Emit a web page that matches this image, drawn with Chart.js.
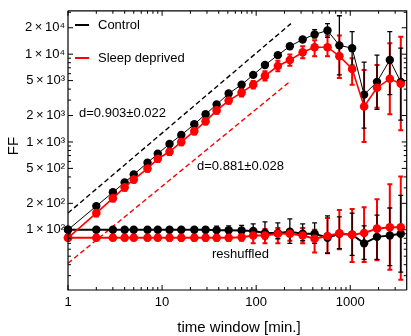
<!DOCTYPE html>
<html><head><meta charset="utf-8">
<script src="https://cdn.jsdelivr.net/npm/chart.js@4.4.1/dist/chart.umd.min.js"></script>
<style>html,body{margin:0;padding:0;background:#fff}canvas{display:block}</style>
</head><body>
<canvas id="c" width="411" height="336"></canvas>
<script>
const timeWindows = [1,2,3,4,5,7,9,12,16,22,29,38,51,70,93,124,170,228,312,418,573,766,1047,1403,1924,2633,3443];

const controlFF   = [100,186,267,346,426,581,733,950,1200,1590,2070,2670,3560,4490,5810,7520,9750,12300,14700,16800,18600,12600,11700,3460,4840,8570,4840];
const controlLow  = [98,182,262,339,417,569,718,930,1175,1555,2020,2610,3480,4380,5650,7250,9350,11700,13900,15300,15500,5800,7500,1440,2350,3460,1770];
const controlHigh = [102,190,272,353,435,593,748,970,1225,1625,2120,2730,3640,4600,5970,7800,10150,12900,15500,19000,22300,27400,18100,8130,9740,18100,11700];

const sleepFF   = [81,155,229,304,374,498,644,773,1000,1330,1720,2290,2965,3650,4490,5660,7330,8570,10500,12000,12000,9500,6780,2540,4150,5240,4600];
const sleepLow  = [77,142,210,279,343,457,591,709,917,1220,1580,2100,2720,3300,4060,5000,6400,7400,9000,9500,9500,5370,4490,1000,2460,2070,1360];
const sleepHigh = [86,169,250,331,408,543,702,843,1090,1450,1880,2500,3230,4030,4960,6400,8400,9900,12300,14400,16300,16300,9000,6610,7520,13300,15800];

const shuffControl     = [100,100,100,100,100,100,100,100,100,100,100,99,99,98,97,92,92,95,90,90,81,90,88,70,83,86,90];
const shuffControlLow  = [98,97,97,97,96,96,96,95,95,94,93,92,91,89,85,79,79,70,75,70,54,61,51,46,46,39,33];
const shuffControlHigh = [102,103,103,103,104,104,104,105,106,107,108,110,111,112,117,123,120,133,117,120,144,140,155,111,147,177,247];

const shuffSleep     = [81,81,81,81,81,81,81,81,81,81,81,81,81,82,86,86,90,90,86,79,85,91,88,92,103,107,107];
const shuffSleepLow  = [76,76,76,76,76,76,76,75,75,75,75,75,75,75,70,70,70,75,70,55,54,60,43,43,45,35,27];
const shuffSleepHigh = [87,87,87,87,87,87,87,88,88,88,88,88,88,90,102,102,105,100,105,100,136,168,172,181,222,329,404];

const fitWindows = [1, 234];
const fitControl = [155, 22300];
const fitSleep   = [41.5, 4980];

const xTickValues = [1, 10, 100, 1000];
const xTickLabels = ["1", "10", "100", "1000"];
const yTickValues = [100, 200, 500, 1000, 2000, 5000, 10000, 20000];
const yTickLabels = ["1\u2009×\u200910²","2\u2009×\u200910²","5\u2009×\u200910²","1\u2009×\u200910³","2\u2009×\u200910³","5\u2009×\u200910³","1\u2009×\u200910⁴","2\u2009×\u200910⁴"];

const FONT = "'Liberation Sans', Arial, Helvetica, sans-serif";
const RED = "#ff0000";
const pts = (xs, ys) => xs.map((x, i) => ({x: x, y: ys[i]}));

const errorSets = [
  {low: sleepLow, high: sleepHigh, color: RED, width: 2},
  {low: shuffSleepLow, high: shuffSleepHigh, color: RED, width: 2},
  {low: controlLow, high: controlHigh, color: "#000", width: 1.3},
  {low: shuffControlLow, high: shuffControlHigh, color: "#000", width: 1.3}
];

const errorBars = {
  id: 'errorBars',
  beforeDatasetsDraw(chart) {
    const {ctx, scales: {x, y}} = chart;
    ctx.save();
    errorSets.forEach(s => {
      ctx.strokeStyle = s.color;
      ctx.lineWidth = s.width;
      timeWindows.forEach((t, i) => {
        const px = x.getPixelForValue(t);
        const yl = y.getPixelForValue(s.low[i]);
        const yh = y.getPixelForValue(s.high[i]);
        ctx.beginPath();
        ctx.moveTo(px, yl); ctx.lineTo(px, yh);
        ctx.moveTo(px - 2.5, yl); ctx.lineTo(px + 2.5, yl);
        ctx.moveTo(px - 2.5, yh); ctx.lineTo(px + 2.5, yh);
        ctx.stroke();
      });
    });
    ctx.restore();
  }
};

const frame = {
  id: 'frame',
  afterDraw(chart) {
    const {ctx, chartArea: a, scales: {x, y}} = chart;
    ctx.save();
    ctx.strokeStyle = "#000";
    ctx.lineWidth = 1.2;
    ctx.beginPath();
    ctx.moveTo(a.left, a.top); ctx.lineTo(a.left, a.bottom);
    ctx.lineTo(a.right, a.bottom);
    ctx.moveTo(a.left, a.top); ctx.lineTo(a.right, a.top); ctx.lineTo(a.right, a.bottom);
    ctx.stroke();
    ctx.lineWidth = 1;
    ctx.beginPath();
    for (let e = 0; e <= 4; e++) {
      for (let d = 1; d <= 9; d++) {
        const v = d * Math.pow(10, e);
        if (v < x.min || v > x.max) continue;
        const px = x.getPixelForValue(v);
        const L = d === 1 ? 5 : 3;
        ctx.moveTo(px, a.bottom); ctx.lineTo(px, a.bottom - L);
        ctx.moveTo(px, a.top); ctx.lineTo(px, a.top + L);
      }
    }
    for (let e = 1; e <= 4; e++) {
      for (let d = 1; d <= 9; d++) {
        const v = d * Math.pow(10, e);
        if (v < y.min || v > y.max) continue;
        const py = y.getPixelForValue(v);
        const L = yTickValues.includes(v) ? 5 : 3;
        ctx.moveTo(a.left, py); ctx.lineTo(a.left + L, py);
        ctx.moveTo(a.right, py); ctx.lineTo(a.right - L, py);
      }
    }
    ctx.stroke();

    // legend
    ctx.lineWidth = 2;
    ctx.strokeStyle = "#000";
    ctx.beginPath(); ctx.moveTo(75, 25); ctx.lineTo(89, 25); ctx.stroke();
    ctx.strokeStyle = RED;
    ctx.beginPath(); ctx.moveTo(75, 58); ctx.lineTo(89, 58); ctx.stroke();
    ctx.fillStyle = "#000";
    ctx.font = "13px " + FONT;
    ctx.textBaseline = "middle";
    ctx.textAlign = "left";
    ctx.fillText("Control", 98, 25);
    ctx.fillText("Sleep deprived", 98, 58);
    ctx.fillText("d=0.903±0.022", 79, 113);
    ctx.fillText("d=0.881±0.028", 197, 166);
    ctx.fillText("reshuffled", 212, 254);
    ctx.font = "15px " + FONT;
    ctx.textAlign = "center";
    ctx.fillText("time window [min.]", 239, 328);
    ctx.translate(14, 146);
    ctx.rotate(-Math.PI / 2);
    ctx.fillText("FF", 0, 0);
    ctx.restore();
  }
};

new Chart(document.getElementById('c'), {
  type: 'line',
  data: {
    datasets: [
      {label: 'Sleep deprived', data: pts(timeWindows, sleepFF), borderColor: RED, backgroundColor: RED, borderWidth: 1.6, pointRadius: 4.3, pointBorderWidth: 0, order: 0, clip: false},
      {label: 'Sleep reshuffled', data: pts(timeWindows, shuffSleep), borderColor: RED, backgroundColor: RED, borderWidth: 2, pointRadius: 4.3, pointBorderWidth: 0, order: 1, clip: false},
      {label: 'Control', data: pts(timeWindows, controlFF), borderColor: "#000", backgroundColor: "#000", borderWidth: 1, pointRadius: 4.2, pointBorderWidth: 0, order: 2, clip: false},
      {label: 'Control reshuffled', data: pts(timeWindows, shuffControl), borderColor: "#000", backgroundColor: "#000", borderWidth: 2, pointRadius: 4.2, pointBorderWidth: 0, order: 3, clip: false},
      {label: 'fit control', data: pts(fitWindows, fitControl), borderColor: "#000", borderWidth: 1.4, borderDash: [5, 3], pointRadius: 0, order: 4},
      {label: 'fit sleep', data: pts(fitWindows, fitSleep), borderColor: RED, borderWidth: 1.4, borderDash: [5, 3], pointRadius: 0, order: 4}
    ]
  },
  options: {
    responsive: false,
    animation: false,
    devicePixelRatio: 1,
    layout: {padding: {top: 7, right: 1, left: 0, bottom: 0}},
    plugins: {legend: {display: false}, tooltip: {enabled: false}},
    scales: {
      x: {
        type: 'logarithmic', min: 1, max: 3980, position: 'bottom',
        grid: {display: false, drawTicks: false}, border: {display: false},
        ticks: {color: "#000", font: {family: FONT, size: 13}, padding: 5, maxRotation: 0, autoSkip: false,
          callback: (v, i) => xTickLabels[i]},
        afterBuildTicks: s => { s.ticks = xTickValues.map(v => ({value: v})); },
        afterFit: s => { s.height = 46; }
      },
      y: {
        type: 'logarithmic', min: 20.6, max: 31200, position: 'left',
        grid: {display: false, drawTicks: false}, border: {display: false},
        ticks: {color: "#000", font: {family: FONT, size: 13}, padding: 3, autoSkip: false,
          callback: (v, i) => yTickLabels[i]},
        afterBuildTicks: s => { s.ticks = yTickValues.map(v => ({value: v})); },
        afterFit: s => { s.width = 68; }
      }
    }
  },
  plugins: [errorBars, frame]
});
</script>
</body></html>
